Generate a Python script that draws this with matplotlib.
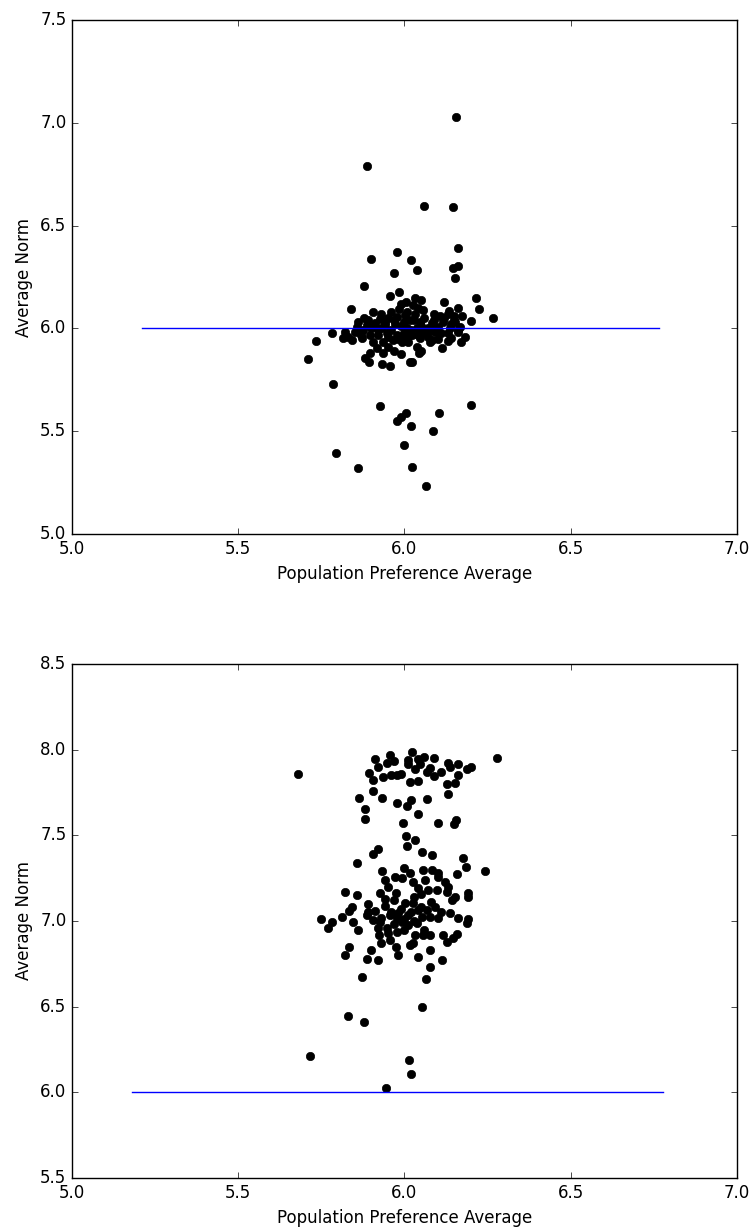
import numpy as np
import matplotlib
matplotlib.use("Agg")
import matplotlib.pyplot as plt

# top panel: preference avg vs norm avg
x_top = [6.155, 5.887, 6.058, 6.145, 6.162, 5.900, 5.977, 6.020, 5.970, 6.038,
         6.145, 6.162, 6.151, 5.878, 5.957, 5.984, 6.216, 6.032, 6.224, 6.266,
         6.005, 5.838, 5.904, 5.959, 5.984, 5.879, 5.926, 5.951, 5.977, 6.002,
         5.856, 5.886, 5.911, 5.941, 5.971, 5.781, 5.821, 5.851, 5.876, 5.816,
         5.841, 5.871, 5.896, 5.921, 5.946, 5.977, 6.007, 5.906, 5.936, 5.966,
         5.996, 5.916, 5.951, 5.992, 5.896, 5.936, 5.989, 5.881, 5.894, 5.931,
         5.956, 6.017, 6.050, 6.119, 6.026, 6.057, 6.134, 6.160, 6.007, 6.032,
         6.107, 6.132, 6.174, 6.200, 6.017, 6.047, 6.082, 6.117, 6.152, 6.007,
         6.037, 6.072, 6.102, 6.137, 6.167, 6.022, 6.057, 6.092, 6.132, 6.162,
         6.011, 6.047, 6.082, 6.140, 6.182, 6.037, 6.077, 6.114, 6.044, 6.022,
         6.170, 5.733, 5.711, 5.784, 5.926, 5.977, 5.989, 6.005, 6.020, 5.999,
         6.104, 6.087, 6.200, 5.794, 5.861, 6.023, 6.064,
         5.93, 5.96, 5.99, 6.02, 6.05, 6.08, 6.11, 6.14, 5.90, 5.87,
         5.94, 5.97, 6.00, 6.03, 6.06, 6.09, 6.12, 6.15, 5.95, 5.98,
         6.01, 6.04, 6.07, 6.10, 6.13, 5.92, 6.00, 6.06, 6.16, 6.15,
         5.89, 5.86, 5.83, 5.97, 6.05, 5.93, 6.09, 6.04, 5.99]
y_top = [7.030, 6.790, 6.595, 6.590, 6.392, 6.339, 6.370, 6.334, 6.268, 6.283,
         6.295, 6.305, 6.245, 6.206, 6.159, 6.178, 6.149, 6.148, 6.094, 6.050,
         6.130, 6.094, 6.081, 6.081, 6.094, 6.052, 6.044, 6.049, 6.057, 6.065,
         6.008, 6.016, 6.025, 6.016, 6.020, 5.976, 5.984, 5.984, 5.992, 5.952,
         5.944, 5.952, 5.968, 5.968, 5.976, 5.968, 5.976, 5.935, 5.935, 5.944,
         5.952, 5.903, 5.911, 5.935, 5.882, 5.879, 5.874, 5.855, 5.838, 5.825,
         5.819, 5.838, 6.138, 6.130, 6.114, 6.090, 6.085, 6.101, 6.081, 6.069,
         6.062, 6.069, 6.062, 6.037, 6.041, 6.033, 6.025, 6.033, 6.030, 6.000,
         6.003, 6.000, 6.008, 6.003, 6.008, 5.968, 5.976, 5.984, 5.976, 5.984,
         5.935, 5.952, 5.944, 5.955, 5.960, 5.911, 5.935, 5.903, 5.879, 5.838,
         5.932, 5.939, 5.850, 5.730, 5.624, 5.551, 5.571, 5.587, 5.525, 5.431,
         5.589, 5.499, 5.629, 5.395, 5.322, 5.327, 5.233,
         6.00, 5.99, 6.01, 5.99, 6.01, 5.99, 5.98, 6.02, 6.00, 5.97,
         6.03, 6.04, 6.03, 6.04, 6.05, 6.04, 6.05, 6.06, 5.96, 5.95,
         5.96, 5.97, 5.96, 5.95, 5.94, 5.99, 5.98, 5.98, 5.99, 6.04,
         6.04, 6.03, 5.96, 5.89, 5.89, 6.07, 6.07, 6.10, 6.12]

# bottom panel
x_bot = [5.681, 6.279, 6.022, 5.956, 5.911, 5.946, 5.968, 6.011, 6.011, 6.040,
         6.047, 6.032, 6.090, 6.067, 6.077, 6.089, 6.109, 6.132, 6.137, 6.162,
         6.187, 6.200, 5.893, 5.904, 5.936, 5.961, 5.978, 6.017, 6.042, 6.129,
         6.152, 6.132, 5.904, 5.864, 5.931, 5.978, 6.008, 6.020, 6.067, 5.881,
         5.881, 5.995, 6.042, 6.100, 6.149, 6.154, 6.006, 6.032, 6.008, 6.052,
         6.082, 6.177, 5.906, 5.921, 5.856, 6.242, 6.185, 6.157, 5.932, 6.057,
         6.082, 5.941, 5.971, 5.974, 5.926, 5.821, 5.856, 5.941, 5.891, 5.841,
         5.834, 5.811, 5.748, 5.781, 5.771, 5.846, 5.861, 5.888, 5.911, 5.906,
         5.926, 5.956, 5.977, 5.921, 5.946, 5.924, 5.956, 5.974, 5.978, 5.834,
         5.821, 5.899, 5.886, 5.919, 6.017, 6.102, 6.122, 5.992, 6.027, 6.062,
         6.042, 6.072, 6.097, 6.127, 6.192, 6.190, 6.152, 6.144, 6.002, 6.027,
         6.042, 6.067, 6.092, 6.137, 5.981, 6.011, 6.052, 6.077, 6.102, 6.162,
         6.190, 6.187, 5.992, 6.011, 6.037, 6.032, 6.057, 6.077, 6.117, 6.157,
         6.147, 6.127, 6.017, 6.027, 6.077, 5.981, 6.042, 6.112, 6.077, 5.871,
         6.065, 5.829, 5.878, 6.052, 5.716, 6.014, 6.020, 5.944,
         5.96, 5.99, 6.02, 6.05, 5.93, 5.97, 6.00, 6.03, 5.94, 6.08,
         6.00, 5.95, 6.11, 5.97, 6.03, 5.89, 6.06, 5.93, 6.10, 6.00,
         5.95, 6.05, 6.13, 5.99, 6.06, 6.16, 5.92]
y_bot = [7.856, 7.950, 7.988, 7.969, 7.944, 7.924, 7.936, 7.940, 7.916, 7.944,
         7.916, 7.885, 7.950, 7.871, 7.891, 7.848, 7.868, 7.920, 7.897, 7.916,
         7.885, 7.900, 7.862, 7.823, 7.842, 7.852, 7.852, 7.810, 7.816, 7.798,
         7.804, 7.741, 7.760, 7.716, 7.716, 7.687, 7.671, 7.706, 7.710, 7.654,
         7.595, 7.574, 7.624, 7.574, 7.566, 7.589, 7.498, 7.473, 7.439, 7.404,
         7.385, 7.366, 7.389, 7.418, 7.337, 7.292, 7.317, 7.273, 7.294, 7.298,
         7.298, 7.239, 7.255, 7.165, 7.162, 7.171, 7.152, 7.127, 7.097, 7.083,
         7.060, 7.025, 7.010, 6.996, 6.957, 6.996, 6.948, 7.035, 7.060, 7.006,
         6.996, 7.035, 7.016, 6.957, 6.957, 6.918, 6.889, 6.850, 6.938, 6.850,
         6.801, 6.831, 6.776, 6.772, 7.278, 7.259, 7.230, 7.249, 7.230, 7.239,
         7.191, 7.181, 7.181, 7.171, 7.162, 7.142, 7.138, 7.123, 7.103, 7.103,
         7.064, 7.064, 7.083, 7.048, 7.045, 7.035, 7.025, 7.025, 7.016, 7.016,
         7.010, 6.987, 6.996, 6.977, 6.987, 6.918, 6.918, 6.918, 6.918, 6.924,
         6.899, 6.879, 6.860, 6.870, 6.831, 6.801, 6.791, 6.772, 6.730, 6.675,
         6.660, 6.445, 6.412, 6.496, 6.214, 6.189, 6.108, 6.023,
         7.05, 7.07, 7.05, 7.08, 7.02, 6.98, 7.01, 7.00, 7.09, 7.11,
         6.95, 6.93, 7.05, 7.12, 7.14, 7.05, 6.95, 6.87, 7.28, 7.31,
         7.20, 7.16, 7.20, 7.86, 7.96, 7.85, 7.90]

target = 6.0

plt.style.use('classic')
fig = plt.figure(figsize=(7.52, 12.28), dpi=100, facecolor='white')

ax1 = fig.add_axes([0.0957, 0.5651, 0.8843, 0.4186])
ax1.plot(x_top, y_top, 'ko', markersize=6)
ax1.plot([min(x_top) - 0.5, max(x_top) + 0.5], [target, target], 'b-')
ax1.set_xlim(5.0, 7.0)
ax1.set_ylim(5.0, 7.5)
ax1.set_xlabel("Population Preference Average")
ax1.set_ylabel("Average Norm")

ax2 = fig.add_axes([0.0957, 0.0407, 0.8843, 0.4186])
ax2.plot(x_bot, y_bot, 'ko', markersize=6)
ax2.plot([min(x_bot) - 0.5, max(x_bot) + 0.5], [target, target], 'b-')
ax2.set_xlim(5.0, 7.0)
ax2.set_ylim(5.5, 8.5)
ax2.set_xlabel("Population Preference Average")
ax2.set_ylabel("Average Norm")

fig.savefig("out.png", dpi=100, facecolor='white')
